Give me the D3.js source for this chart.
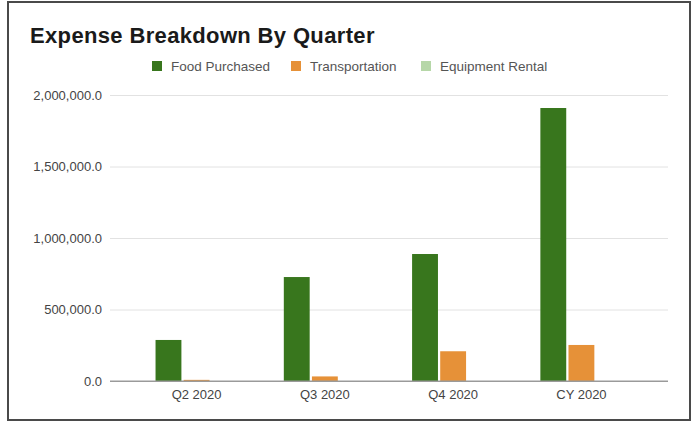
<!DOCTYPE html>
<html>
<head>
<meta charset="utf-8">
<script src="https://cdn.jsdelivr.net/npm/d3@7"></script>
<style>
  html, body { margin: 0; padding: 0; background: #fff; }
  svg { display: block; font-family: "Liberation Sans", Arial, sans-serif; }
</style>
</head>
<body>
<svg id="chart" width="697" height="423"></svg>
<script>
const categories = ["Q2 2020", "Q3 2020", "Q4 2020", "CY 2020"];
const seriesNames = ["Food Purchased", "Transportation", "Equipment Rental"];
const foodPurchased = [287000, 727000, 888000, 1909000];
const transportation = [8000, 32000, 208000, 252000];
const equipmentRental = [0, 0, 0, 0];
const yTicks = [0, 500000, 1000000, 1500000, 2000000];
const colors = ["#38761d", "#e69138", "#b6d7a8"];

(function () {
const seriesValues = [foodPurchased, transportation, equipmentRental];
const svg = d3.select("#chart");

// frame
svg.append("rect").attr("x", 8).attr("y", 2).attr("width", 682).attr("height", 418)
  .attr("fill", "#fff").attr("stroke", "#4a4a4a").attr("stroke-width", 2);

// title
svg.append("text").attr("x", 30).attr("y", 43)
  .attr("font-size", 22).attr("font-weight", "bold").attr("fill", "#1a1a1a")
  .attr("letter-spacing", 0.35)
  .text("Expense Breakdown By Quarter");

const pLeft = 110, pRight = 668, pTop = 95, pBottom = 381;
const x0 = d3.scaleBand().domain(categories).range([pLeft, pRight])
  .paddingInner(0.36).paddingOuter(0.355);
const x1 = d3.scaleBand().domain(seriesNames).range([0, x0.bandwidth()]).paddingInner(0.08);
const y = d3.scaleLinear().domain([0, 2000000]).range([pBottom, pTop]);

// grid
const yAxis = d3.axisLeft(y).tickValues(yTicks).tickFormat(d3.format(",.1f"))
  .tickSize(-(pRight - pLeft)).tickPadding(8);
const gy = svg.append("g").attr("transform", `translate(${pLeft},0)`).call(yAxis);
gy.select(".domain").remove();
gy.selectAll(".tick line").attr("stroke", d => d === 0 ? "#9a9a9a" : "#e2e2e2").attr("stroke-width", 1);
gy.selectAll(".tick text").attr("font-size", 13).attr("fill", "#444")
  .attr("font-family", "Liberation Sans, Arial, sans-serif");

// bars
const groups = svg.append("g").selectAll("g").data(categories).join("g")
  .attr("transform", d => `translate(${x0(d)},0)`);
groups.selectAll("rect")
  .data((c, i) => seriesNames.map((s, j) => ({ s, v: seriesValues[j][i], j })))
  .join("rect")
  .attr("x", d => x1(d.s))
  .attr("width", x1.bandwidth())
  .attr("y", d => y(d.v))
  .attr("height", d => Math.max(0, pBottom - y(d.v)))
  .attr("fill", d => colors[d.j]);

// baseline on top
svg.append("line").attr("x1", pLeft).attr("x2", pRight).attr("y1", y(0)).attr("y2", y(0))
  .attr("stroke", "#9a9a9a").attr("stroke-width", 1);

// x axis labels
const xAxis = d3.axisBottom(x0).tickSize(0).tickPadding(9);
const gx = svg.append("g").attr("transform", `translate(0,${pBottom})`).call(xAxis);
gx.select(".domain").remove();
gx.selectAll(".tick text").attr("font-size", 13).attr("fill", "#444")
  .attr("font-family", "Liberation Sans, Arial, sans-serif");

// legend
const legendX = [152, 291, 421];
const lg = svg.append("g").selectAll("g").data(seriesNames).join("g")
  .attr("transform", (d, i) => `translate(${legendX[i]},61)`);
lg.append("rect").attr("width", 10).attr("height", 10).attr("fill", (d, i) => colors[i]);
lg.append("text").attr("x", 19).attr("y", 10).attr("font-size", 13.5).attr("fill", "#555")
  .text(d => d);
})();
</script>
</body>
</html>
